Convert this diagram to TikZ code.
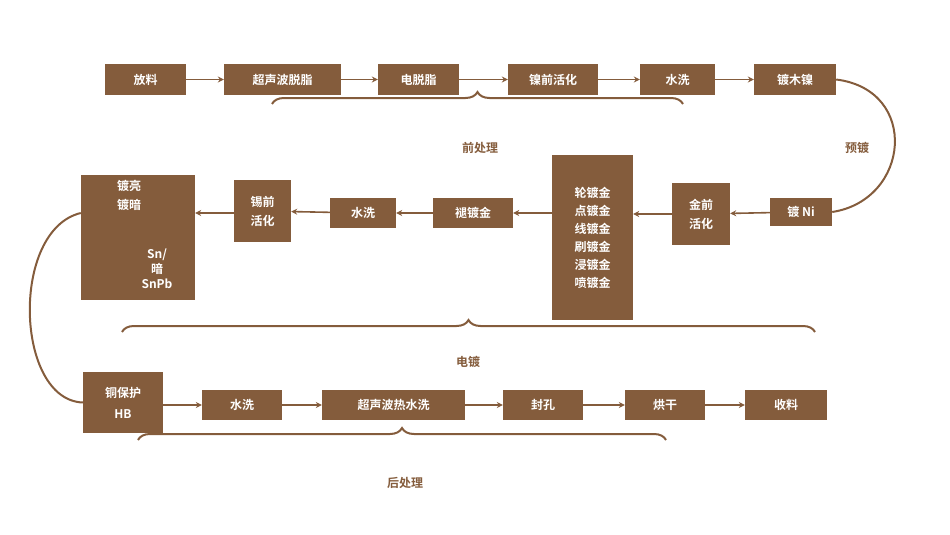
\documentclass[tikz,border=0pt]{standalone}
\usepackage{fontspec}
\setmainfont{Noto Sans CJK SC}[BoldFont={Noto Sans CJK SC Bold}]
\usetikzlibrary{decorations.pathreplacing,arrows.meta}
\definecolor{br}{HTML}{845C3C}
\tikzset{
 bx/.style={fill=br,text=white,font=\bfseries\fontsize{12}{15}\selectfont,inner sep=0pt,align=center},
 ar/.style={draw=br,line width=1.6pt,-{Stealth[length=6pt,width=6pt]}},
 ln/.style={draw=br,line width=2pt},
 brc/.style={draw=br,line width=2pt,decorate,decoration={brace,mirror,amplitude=12pt}},
 lb/.style={text=br,font=\bfseries\fontsize{12}{15}\selectfont}
}
\newcommand{\bxn}[6]{\node[bx,minimum width=#4-#2,minimum height=#5-#3] (#1) at ({(#2+#4)/2},{(#3+#5)/2}) {#6};}
\begin{document}
\begin{tikzpicture}[x=1pt,y=-1pt]
\useasboundingbox (0,0) rectangle (950,535);
\bxn{a1}{105}{64}{186}{95}{放料}
\bxn{a2}{224}{64}{341}{95}{超声波脱脂}
\bxn{a3}{378}{64}{459}{95}{电脱脂}
\bxn{a4}{508}{64}{598}{95}{镍前活化}
\bxn{a5}{640}{64}{715}{95}{水洗}
\bxn{a6}{754}{64}{836}{95}{镀木镍}
\draw[ar] (a1) -- (a2); \draw[ar] (a2) -- (a3); \draw[ar] (a3) -- (a4);
\draw[ar] (a4) -- (a5); \draw[ar] (a5) -- (a6);
\draw[brc] (683,104) -- (272,104);
\node[lb] (l1) at (480,148) {前处理};
\bxn{b1}{770}{198}{832}{226}{镀 Ni}
\bxn{b2}{672}{183}{730}{245}{金前\\[4pt]活化}
\bxn{b3}{552}{155}{633}{320}{轮镀金\\[3pt]点镀金\\[3pt]线镀金\\[3pt]刷镀金\\[3pt]浸镀金\\[3pt]喷镀金}
\bxn{b4}{433}{198}{513}{228}{褪镀金}
\bxn{b5}{330}{198}{396}{228}{水洗}
\bxn{b6}{234}{180}{291}{242}{锡前\\[4pt]活化}
\node[fill=br,minimum width=114pt,minimum height=125pt,inner sep=0pt] (b7) at (138,237.5) {};
\node[bx,align=left,anchor=north west] (b7t) at (117,180) {镀亮\\[4pt]镀暗};
\node[bx] (b7u) at (157,269) {Sn/\\暗\\SnPb};
\draw[ln] (a6.east) .. controls (920,90) and (910,200) .. (b1.east);
\node[lb] (l2) at (857,148) {预镀};
\draw[ar] (b1) -- (b2); \draw[ar] (b2) -- (b3.east |- b2);
\draw[ar] (b3.west |- b4) -- (b4); \draw[ar] (b4) -- (b5); \draw[ar] (b5) -- (b6);
\draw[ar] (b6.west |- b5) -- (b7.east |- b5);
\draw[brc] (815,332) -- (122,332);
\node[lb] (l3) at (468,362) {电镀};
\bxn{c1}{83}{372}{163}{433}{铜保护\\[6pt]HB}
\bxn{c2}{202}{390}{282}{420}{水洗}
\bxn{c3}{322}{390}{465}{420}{超声波热水洗}
\bxn{c4}{503}{390}{583}{420}{封孔}
\bxn{c5}{625}{390}{705}{420}{烘干}
\bxn{c6}{745}{390}{827}{420}{收料}
\draw[ln] (b7.west |- 0,213) .. controls (10,230) and (15,400) .. (c1.west);
\draw[ar] (c1.east |- c2) -- (c2); \draw[ar] (c2) -- (c3); \draw[ar] (c3) -- (c4);
\draw[ar] (c4) -- (c5); \draw[ar] (c5) -- (c6);
\draw[brc] (666,440) -- (138,440);
\node[lb] (l4) at (405,483) {后处理};
\end{tikzpicture}
\end{document}
